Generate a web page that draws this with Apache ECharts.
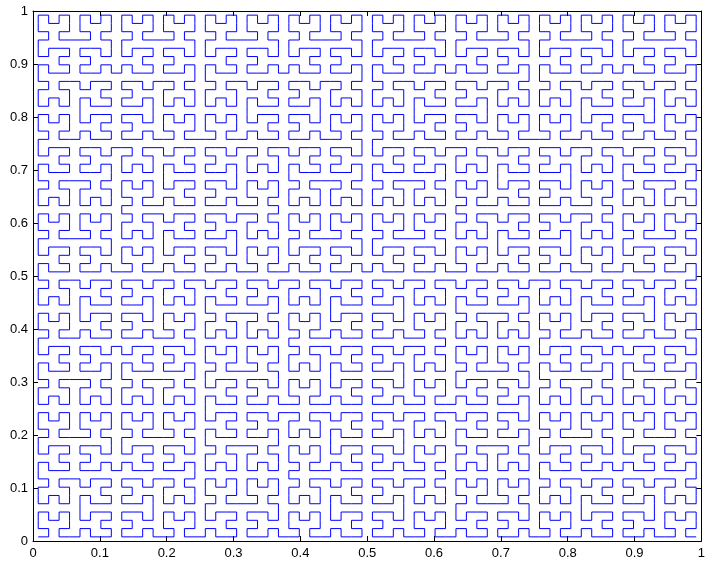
<!DOCTYPE html>
<html>
<head>
<meta charset="utf-8">
<script src="https://cdn.jsdelivr.net/npm/echarts@6/dist/echarts.min.js"></script>
<style>
  html, body { margin: 0; padding: 0; background: #fff; }
  #chart { width: 708px; height: 564px; }
</style>
</head>
<body>
<div id="chart"></div>
<script>
// Hilbert curve order drawn in the plot
var curveOrder = 6;
// Axis range and tick labels
var xTicks = [0, 0.1, 0.2, 0.3, 0.4, 0.5, 0.6, 0.7, 0.8, 0.9, 1];
var yTicks = [0, 0.1, 0.2, 0.3, 0.4, 0.5, 0.6, 0.7, 0.8, 0.9, 1];

// Classic recursive Hilbert construction, centred on the origin
function hilbert(n) {
  if (n <= 0) return { x: [0], y: [0] };
  var p = hilbert(n - 1);
  var x = [], y = [], i, m = p.x.length;
  for (i = 0; i < m; i++) { x.push(0.5 * (-0.5 + p.y[i])); y.push(0.5 * (-0.5 + p.x[i])); }
  for (i = 0; i < m; i++) { x.push(0.5 * (-0.5 + p.x[i])); y.push(0.5 * (0.5 + p.y[i])); }
  for (i = 0; i < m; i++) { x.push(0.5 * (0.5 + p.x[i]));  y.push(0.5 * (0.5 + p.y[i])); }
  for (i = 0; i < m; i++) { x.push(0.5 * (0.5 - p.y[i]));  y.push(0.5 * (-0.5 - p.x[i])); }
  return { x: x, y: y };
}

var curve = hilbert(curveOrder);
var points = curve.x.map(function (v, i) { return [v + 0.5, curve.y[i] + 0.5]; });

var font = 'Liberation Sans, Arial, sans-serif';
var labelStyle = { color: '#000', fontSize: 13, fontFamily: font };

function axis(pos, showLabels, ticks, margin) {
  return {
    type: 'value', position: pos, min: ticks[0], max: ticks[ticks.length - 1], interval: 0.1,
    axisLine: { show: true, onZero: false, lineStyle: { color: '#000', width: 1 } },
    axisTick: { show: true, inside: true, length: 5, lineStyle: { color: '#000', width: 1 } },
    axisLabel: Object.assign({ show: showLabels, margin: margin }, labelStyle),
    splitLine: { show: false }
  };
}

var chart = echarts.init(document.getElementById('chart'), null, { renderer: 'canvas' });
chart.setOption({
  animation: false,
  backgroundColor: '#fff',
  grid: { left: 33, right: 3, top: 11, bottom: 23, containLabel: false },
  xAxis: [axis('bottom', true, xTicks, 6), axis('top', false, xTicks, 6)],
  yAxis: [axis('left', true, yTicks, 5), axis('right', false, yTicks, 5)],
  series: [{
    type: 'line',
    data: points,
    symbol: 'none',
    clip: false,
    lineStyle: { color: '#0000ff', width: 1 }
  }]
});
</script>
</body>
</html>
